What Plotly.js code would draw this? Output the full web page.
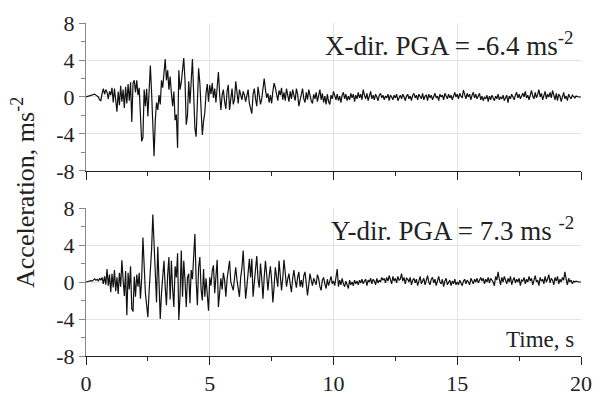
<!DOCTYPE html>
<html>
<head>
<meta charset="utf-8">
<script src="https://cdn.plot.ly/plotly-3.0.1.min.js"></script>
<style>html,body{margin:0;padding:0;background:#fff;}#chart{width:602px;height:397px;}</style>
</head>
<body>
<div id="chart"></div>
<script>
// Sampling of the records (s)
const timeStart = 0;
const timeStep = 0.05;

// X-direction acceleration (m/s^2), one row per second
const accX = [
 0.0,0.05,0.1,0.1,0.15,0.2,0.25,0.3,0.2,0.1,0.0,-0.3,-0.4,0.4,0.9,0.3,0.8,0.5,-0.2,0.6,
 0.2,1.0,-0.6,0.9,-0.8,-1.6,0.6,-0.9,1.2,-0.5,0.8,-1.2,1.1,-0.7,1.4,-0.4,1.6,-2.7,1.5,1.8,
 0.5,1.8,0.2,1.0,-2.0,-4.8,-4.4,0.8,-1.0,0.9,-2.1,1.5,3.4,0.5,-3.9,-6.4,-2.5,-0.6,-1.4,0.2,
 -0.8,1.8,1.0,2.4,4.1,1.8,2.9,0.8,2.2,0.4,-1.0,0.6,-2.5,-1.9,-5.5,2.9,0.8,1.6,3.1,4.2,
 1.8,-3.0,-2.0,1.7,-0.7,2.0,4.1,0.4,-3.4,-4.3,0.5,3.1,1.5,-1.0,-4.1,-2.6,-1.7,0.4,1.4,-0.5,
 1.3,0.3,1.5,-0.1,0.9,-0.6,0.8,2.7,0.3,-1.4,0.2,0.8,-0.5,-1.3,0.6,1.3,-1.4,-0.2,0.9,-0.8,
 -0.3,1.7,0.5,-0.7,0.8,0.2,-0.3,0.6,0.2,-0.5,0.4,0.8,-0.7,-1.4,-1.8,0.3,0.9,-0.2,-1.0,1.1,
 0.3,-0.8,-0.2,0.8,2.0,0.8,-0.1,0.4,-0.6,0.2,-0.7,0.6,1.5,1.0,0.1,-0.4,0.7,0.2,1.0,-0.3,
 0.5,-0.4,0.9,0.1,-0.5,0.6,-0.2,0.8,0.2,-0.4,0.9,0.3,-1.0,-0.3,0.4,0.9,-0.2,-0.6,0.5,-0.3,
 0.8,0.1,-0.4,-0.7,0.3,-0.2,0.5,-0.5,0.2,0.8,-0.3,0.4,-0.6,0.1,-0.8,0.3,-0.5,-0.8,0.2,-0.2,
 0.6,0.1,-0.3,0.3,-0.4,0.1,-0.6,0.2,0.5,-0.2,0.3,-0.4,0.1,-0.3,0.4,-0.1,0.3,-0.5,0.2,-0.2,
 0.5,-0.1,0.3,-0.3,0.8,0.2,-0.2,0.4,-0.4,0.1,0.6,-0.2,0.2,-0.3,0.3,0.0,-0.4,0.2,0.4,-0.1,
 0.2,-0.3,0.1,-0.1,0.3,-0.4,0.2,0.0,-0.3,0.2,-0.1,0.3,-0.4,-0.1,0.2,-0.2,0.3,0.0,-0.4,0.1,
 0.3,-0.2,0.1,-0.4,0.2,0.4,-0.1,0.2,-0.3,0.3,0.0,-0.2,0.4,-0.3,0.1,0.2,-0.4,0.3,-0.1,0.2,
 -0.3,0.2,0.4,-0.1,0.1,-0.4,0.3,0.0,0.2,-0.3,0.4,0.1,-0.2,0.3,-0.1,0.2,-0.3,0.1,0.5,0.0,
 0.3,-0.2,0.4,0.1,-0.1,0.75,0.2,-0.2,0.4,0.0,0.3,-0.3,0.2,0.5,-0.1,0.3,-0.2,0.1,0.4,-0.3,
 0.1,-0.4,0.0,-0.2,0.2,-0.5,0.1,-0.3,0.2,-0.1,-0.4,0.1,-0.2,0.3,-0.3,0.0,-0.2,0.2,-0.4,-0.1,
 0.2,-0.6,0.1,-0.2,0.3,0.0,-0.3,0.2,0.5,-0.1,0.3,-0.2,0.1,0.4,0.0,0.6,-0.1,0.2,-0.3,0.4,
 0.7,0.1,-0.2,0.5,-0.1,0.3,0.8,0.0,0.4,-0.3,0.2,0.6,-0.2,0.3,0.0,0.5,-0.1,0.7,0.2,-0.3,
 0.4,-0.4,0.3,0.1,-0.5,0.2,0.5,-0.2,0.1,-0.4,0.3,0.0,-0.2,0.2,0.0,-0.1,0.1,0.0,0.0,0.0,
 0.0
];

// Y-direction acceleration (m/s^2), one row per second
const accY = [
 0.0,0.05,0.1,0.1,0.15,0.1,0.2,0.35,0.2,0.3,0.1,0.4,0.2,0.5,-0.2,0.6,-0.3,1.4,-0.4,0.8,
 -1.1,0.9,-0.6,1.3,-1.0,0.5,-1.3,1.0,-0.5,2.35,0.2,-1.5,1.2,-3.6,1.0,-0.8,1.7,-2.9,-3.2,0.6,
 -1.6,0.8,-0.5,1.0,-1.8,0.4,4.8,1.0,-1.2,-2.5,-3.8,-1.0,1.2,3.5,7.3,3.0,1.0,-2.2,3.8,0.0,
 -4.0,-1.2,0.5,2.3,-0.5,-2.5,0.8,2.7,-1.9,2.3,-0.8,-2.7,1.7,0.5,3.1,-4.1,-1.5,3.4,-1.6,2.3,
 0.2,-2.7,0.5,0.9,-2.3,1.3,0.3,2.8,5.2,0.2,-2.5,1.6,2.7,-0.8,-2.0,1.4,-1.6,0.4,-1.0,-3.1,
 0.5,-0.4,1.2,1.8,-1.2,1.1,2.4,-2.7,-0.6,0.4,-0.8,1.0,0.2,-1.6,0.3,1.2,2.3,0.0,-0.5,-0.9,
 0.4,1.6,0.2,-1.0,-1.6,0.5,1.5,3.4,0.2,-1.8,-0.5,1.2,2.5,0.5,2.5,-1.6,-0.4,1.4,2.8,0.3,
 -0.6,2.0,0.4,-1.8,0.5,2.3,0.8,-0.9,0.6,1.7,0.2,-2.2,-0.5,1.6,0.5,-0.5,2.3,0.6,-0.9,0.4,
 2.4,1.0,-0.5,0.3,0.9,-0.2,-1.1,0.4,1.3,0.2,-0.6,0.5,1.1,-0.5,0.2,-0.6,0.7,1.1,-0.7,-1.45,
 -0.3,0.9,0.2,-0.4,0.4,0.1,-0.3,0.8,0.4,-0.5,-0.9,0.2,0.5,-0.2,-0.7,0.3,-0.4,0.1,0.6,-0.2,
 0.1,-0.4,0.3,1.4,-0.5,0.2,-0.3,0.4,-0.2,-0.5,0.1,-0.3,-0.7,0.2,-0.3,0.0,-0.4,0.2,-0.2,0.1,
 -0.3,0.2,-0.1,0.3,-0.2,0.1,0.3,-0.4,0.2,0.0,0.4,-0.2,0.3,0.1,-0.3,0.4,-0.1,0.2,0.0,0.5,
 0.2,0.4,-0.1,0.5,0.1,0.7,0.2,-0.2,0.6,0.1,0.4,-0.1,0.6,0.2,0.3,0.9,0.1,0.5,-0.2,0.4,
 0.3,0.0,0.5,-0.3,0.2,0.4,-0.1,0.3,-0.4,0.2,0.6,-0.2,0.1,0.4,-0.3,0.2,0.7,0.0,-0.3,0.3,
 0.5,-0.1,0.3,-0.4,0.2,0.6,0.0,-0.2,0.3,-0.5,0.1,0.4,-0.3,0.0,0.2,-0.4,0.1,-0.2,0.3,-0.3,
 0.0,-0.3,0.2,-0.1,-0.4,0.1,0.3,-0.2,0.2,0.0,-0.3,0.4,0.1,-0.2,0.3,0.0,0.4,-0.1,0.2,0.5,
 0.1,0.4,-0.2,0.3,0.0,0.5,-0.1,0.4,0.2,0.0,-0.4,0.6,0.2,1.1,0.3,-0.3,0.5,0.0,0.6,0.2,
 -0.2,0.4,0.0,0.6,-0.3,0.2,0.5,-0.1,0.3,0.0,0.4,-0.4,0.2,0.1,0.5,-0.2,0.3,0.0,0.6,0.1,
 0.4,-0.3,0.3,0.7,0.0,0.2,-0.4,0.5,0.1,0.3,-0.2,0.6,0.0,0.3,0.8,-0.1,0.4,0.2,-0.3,0.5,
 0.1,0.6,-0.2,0.3,0.0,0.5,0.2,1.1,0.3,-0.3,0.4,0.0,0.2,-0.2,0.1,0.0,0.1,0.0,0.0,0.0,
 0.0
];

const yTicks = [-8, -4, 0, 4, 8];
const xTicks = [0, 5, 10, 15, 20];
const labelX = 'X-dir. PGA = -6.4 ms<sup>-2</sup>';
const labelY = 'Y-dir. PGA = 7.3 ms <sup>-2</sup>';
const yTitle = 'Acceleration, ms<sup>-2</sup>';
const xTitle = 'Time, s';

const FONT = 'Liberation Serif';
const TXT = '#222';

const traces = [
  {x0: timeStart, dx: timeStep, y: accX, xaxis: 'x', yaxis: 'y', type: 'scatter', mode: 'lines',
   line: {color: '#111', width: 1.2}, hoverinfo: 'skip'},
  {x0: timeStart, dx: timeStep, y: accY, xaxis: 'x2', yaxis: 'y2', type: 'scatter', mode: 'lines',
   line: {color: '#111', width: 1.2}, hoverinfo: 'skip'}
];

const xBase = {
  range: [0, 20], tickvals: xTicks, ticktext: xTicks.map(String),
  showgrid: true, gridcolor: '#e3e3e3', gridwidth: 1, zeroline: false,
  showline: true, linecolor: '#222', linewidth: 1,
  ticks: 'outside', ticklen: 8, tickcolor: '#222', tickwidth: 1,
  minor: {dtick: 2.5, tick0: 0, ticks: 'outside', ticklen: 4, tickcolor: '#222', showgrid: false},
  tickfont: {family: FONT, size: 22, color: TXT}, fixedrange: true
};
const yBase = {
  range: [-8, 8], tickvals: yTicks, ticktext: yTicks.map(String),
  showgrid: true, gridcolor: '#e3e3e3', gridwidth: 1, zeroline: false,
  showline: true, linecolor: '#888', linewidth: 1,
  ticks: 'outside', ticklen: 6, tickcolor: '#888', tickwidth: 1,
  minor: {dtick: 2, tick0: 0, ticks: 'outside', ticklen: 4, tickcolor: '#888', showgrid: false},
  tickfont: {family: FONT, size: 22, color: TXT}, fixedrange: true
};

const layout = {
  width: 602, height: 397,
  margin: {l: 86, r: 21, t: 23, b: 41},
  paper_bgcolor: '#fff', plot_bgcolor: '#fff',
  showlegend: false,
  font: {family: FONT, color: TXT},
  xaxis: Object.assign({}, xBase, {anchor: 'y', showticklabels: false}),
  xaxis2: Object.assign({}, xBase, {anchor: 'y2'}),
  yaxis: Object.assign({}, yBase, {domain: [0.5556, 1], anchor: 'x'}),
  yaxis2: Object.assign({}, yBase, {domain: [0, 0.4444], anchor: 'x2'}),
  annotations: [
    {text: labelX, xref: 'x domain', yref: 'y domain', x: 0.99, y: 0.855, xanchor: 'right', yanchor: 'middle',
     showarrow: false, font: {family: FONT, size: 27, color: TXT}},
    {text: labelY, xref: 'x2 domain', yref: 'y2 domain', x: 0.99, y: 0.86, xanchor: 'right', yanchor: 'middle',
     showarrow: false, font: {family: FONT, size: 27, color: TXT}},
    {text: xTitle, xref: 'x2 domain', yref: 'y2 domain', x: 0.99, y: 0.11, xanchor: 'right', yanchor: 'middle',
     showarrow: false, font: {family: FONT, size: 23, color: TXT}},
    {text: yTitle, xref: 'paper', yref: 'paper', x: -0.125, y: 0.49, xanchor: 'center', yanchor: 'middle',
     textangle: -90, showarrow: false, font: {family: FONT, size: 26, color: TXT}}
  ]
};

Plotly.newPlot('chart', traces, layout, {staticPlot: true, displayModeBar: false});
</script>
</body>
</html>
